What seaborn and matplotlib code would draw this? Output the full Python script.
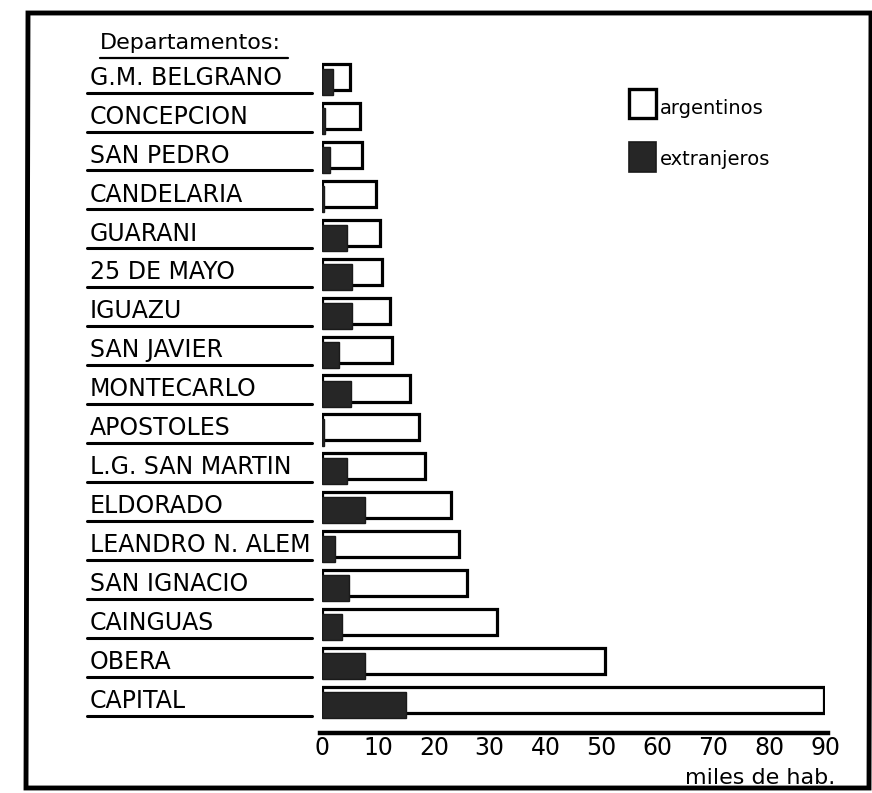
import warnings
warnings.filterwarnings("ignore")
import matplotlib
matplotlib.use('Agg')
from matplotlib import pyplot as plt
from matplotlib import font_manager, transforms
from matplotlib.patches import Polygon, Rectangle
import pandas as pd
import seaborn as sns

# Departamentos, top to bottom
departamentos = ["G.M. BELGRANO", "CONCEPCION", "SAN PEDRO", "CANDELARIA", "GUARANI",
                 "25 DE MAYO", "IGUAZU", "SAN JAVIER", "MONTECARLO", "APOSTOLES",
                 "L.G. SAN MARTIN", "ELDORADO", "LEANDRO N. ALEM", "SAN IGNACIO",
                 "CAINGUAS", "OBERA", "CAPITAL"]
# length of the white bar (miles de hab.)
argentinos = [5.0, 6.8, 7.2, 9.7, 10.4, 10.8, 12.2, 12.5, 15.8, 17.4,
              18.5, 23.0, 24.5, 26.0, 31.4, 50.7, 89.8]
# dark bar drawn from the start of each row
extranjeros = [2.0, 0.5, 1.5, 0.4, 4.5, 5.4, 5.4, 3.0, 5.2, 0.4,
               4.5, 7.7, 2.3, 4.9, 3.5, 7.7, 15.0]
x_ticks = [0, 10, 20, 30, 40, 50, 60, 70, 80, 90]

df = pd.DataFrame({"dep": departamentos, "arg": argentinos, "ext": extranjeros})

sns.set_style("white")
names = {f.name for f in font_manager.fontManager.ttflist}
narrow = "Liberation Sans Narrow" if "Liberation Sans Narrow" in names else "DejaVu Sans"
plt.rcParams['font.family'] = ['DejaVu Sans']
plt.rcParams['text.color'] = 'black'
plt.rcParams['xtick.color'] = 'black'

W, H = 872, 793
fig = plt.figure(figsize=(W / 100, H / 100), dpi=100)
fig.patch.set_facecolor("white")

# axes: x=0 at 322px, x=90 at 825px; row 0 centre at 77px, row 16 at 700px
row_h = (700 - 77) / 16
y_top = (58 - 77) / row_h
y_bot = (733 - 77) / row_h
ax = fig.add_axes([322 / W, 1 - 733 / H, 503 / W, (733 - 58) / H])

sns.barplot(data=df, x="arg", y="dep", orient="h", color="white", edgecolor="black",
            linewidth=2.3, width=0.67, ax=ax)
n_white = len(ax.patches)
sns.barplot(data=df, x="ext", y="dep", orient="h", color="#262626", edgecolor="#1a1a1a",
            linewidth=1.0, width=0.67, ax=ax, saturation=1)
for p in ax.patches[n_white:]:
    p.set_y(p.get_y() + 0.13)

ax.set_xlim(0, 90)
ax.set_ylim(y_bot, y_top)
ax.set_xlabel("")
ax.set_ylabel("")
ax.set_yticks([])
ax.set_xticks(x_ticks)
ax.set_xticklabels([str(t) for t in x_ticks], fontsize=17, family=[narrow, 'DejaVu Sans'])
ax.tick_params(axis="x", length=0, pad=2, colors="black")
for s in ["top", "right", "left"]:
    ax.spines[s].set_visible(False)
ax.spines["bottom"].set_linewidth(3.2)
ax.spines["bottom"].set_color("black")
ax.spines["bottom"].set_bounds(-0.3, 90.6)

# labels with underlines, left of the bars
trans = transforms.blended_transform_factory(fig.transFigure, ax.transData)
for i, name in enumerate(departamentos):
    ax.text(90 / W, i + 0.2, name, transform=trans, fontsize=17, ha="left", va="baseline",
            color="black", clip_on=False)
    ax.plot([87 / W, 312 / W], [i + 0.4, i + 0.4], color="black", lw=2.2,
            transform=trans, clip_on=False)

fig.text(100 / W, 1 - 49 / H, "Departamentos:", fontsize=16, ha="left", va="baseline")
fig.add_artist(plt.Line2D([100 / W, 288 / W], [1 - 58 / H, 1 - 58 / H], color="black", lw=1.6))

# legend
fig.add_artist(Rectangle((629 / W, 1 - 118 / H), 27 / W, 29 / H, facecolor="white",
                         edgecolor="black", lw=2.4))
fig.add_artist(Rectangle((629 / W, 1 - 172 / H), 27 / W, 30 / H, facecolor="#262626",
                         edgecolor="#1a1a1a", lw=1.2))
fig.text(660 / W, 1 - 114 / H, "argentinos", fontsize=14, ha="left", va="baseline",
         family=[narrow, 'DejaVu Sans'])
fig.text(660 / W, 1 - 165 / H, "extranjeros", fontsize=14, ha="left", va="baseline",
         family=[narrow, 'DejaVu Sans'])

fig.text(835 / W, 1 - 784 / H, "miles de hab.", fontsize=16, ha="right", va="baseline",
         family=[narrow, 'DejaVu Sans'])

# outer frame
frame = Polygon([(28 / W, 1 - 13 / H), (871 / W, 1 - 13 / H), (869 / W, 1 - 788 / H),
                 (26 / W, 1 - 788 / H)], closed=True, fill=False, edgecolor="black", lw=3.5)
fig.add_artist(frame)

fig.savefig("out.png", dpi=100)
